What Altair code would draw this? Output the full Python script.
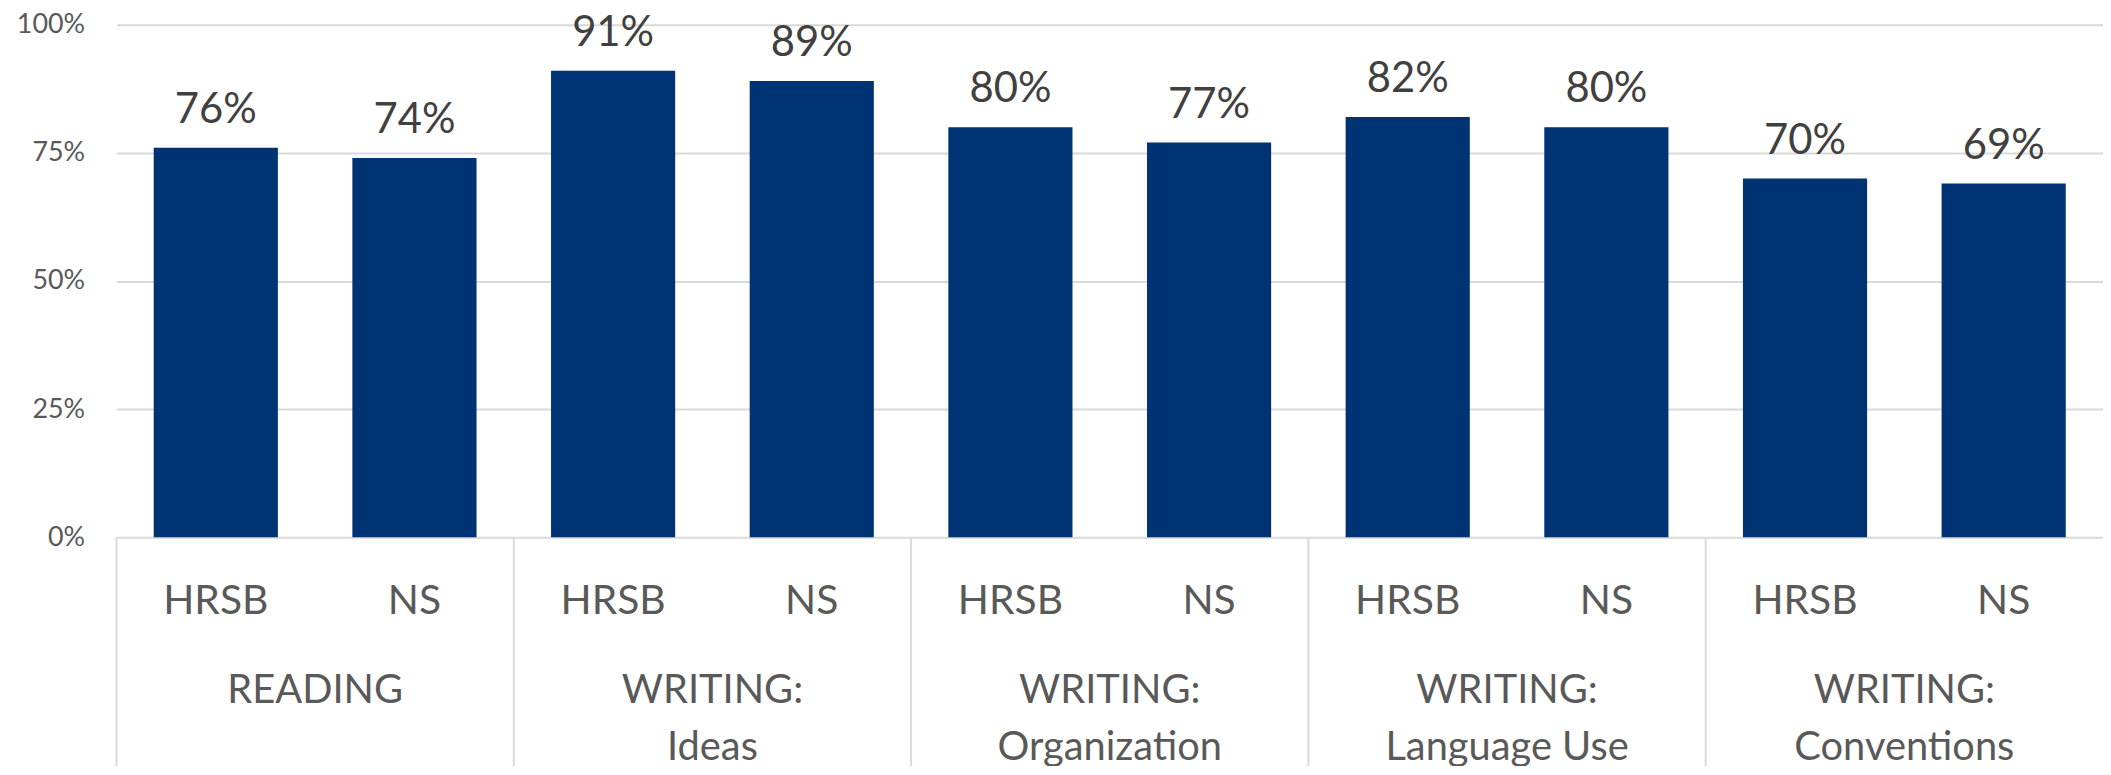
import altair as alt
import pandas as pd

groups = ["READING", "WRITING:\nIdeas", "WRITING:\nOrganization",
          "WRITING:\nLanguage Use", "WRITING:\nConventions"]
series = ["HRSB", "NS"]
hrsb = [0.76, 0.91, 0.80, 0.82, 0.70]
ns = [0.74, 0.89, 0.77, 0.80, 0.69]
y_ticks = [0, 0.25, 0.5, 0.75, 1.0]

rows = []
for g, a, b in zip(groups, hrsb, ns):
    for s, v in zip(series, [a, b]):
        rows.append({"group": g, "series": s, "key": g + "|" + s, "value": v})
df = pd.DataFrame(rows)
keys = list(df["key"])
gdf = pd.DataFrame({"group": groups})

FONT = "Lato"
BAR = "#003373"
GRID = "#d9d9d9"

x_bar = alt.X("key:N", sort=keys, axis=None,
              scale=alt.Scale(paddingInner=0.375, paddingOuter=0.1875))
y_val = alt.Y("value:Q", scale=alt.Scale(domain=[0, 1]),
              axis=alt.Axis(values=y_ticks, format=".0%", title=None,
                            domain=False, ticks=False, labelFontSize=27,
                            labelFont=FONT, labelColor="#595959",
                            labelPadding=32, gridColor=GRID, gridWidth=2))

base = alt.Chart(df)
bars = base.mark_bar(color=BAR).encode(x=x_bar, y=y_val)
vals = base.mark_text(dy=-25, baseline="alphabetic", fontSize=42, font=FONT,
                      color="#404040").encode(
    x=x_bar, y=alt.Y("value:Q"), text=alt.Text("value:Q", format=".0%"))
subs = base.mark_text(baseline="alphabetic", fontSize=41, font=FONT,
                      color="#595959").encode(
    x=x_bar, y=alt.value(592), text="series:N")

gscale = alt.Scale(paddingInner=0, paddingOuter=0)
gbase = alt.Chart(gdf)
gtext = gbase.mark_text(baseline="alphabetic", fontSize=40, font=FONT,
                        lineBreak="\n", lineHeight=57, color="#595959").encode(
    x=alt.X("group:N", sort=groups, axis=None, scale=gscale),
    y=alt.value(682), text="group:N")
seps = gbase.mark_rule(color=GRID, strokeWidth=2).encode(
    x=alt.X("group:N", sort=groups, axis=None, scale=gscale, bandPosition=0),
    y=alt.value(515), y2=alt.value(770))

chart = alt.layer(
    alt.layer(bars, vals, subs),
    alt.layer(seps, gtext),
).resolve_scale(x="independent").properties(
    width=1996, height=515,
    autosize=alt.AutoSizeParams(type="none"),
    padding={"left": 109, "top": 15, "right": 0, "bottom": 228},
    background="white",
).configure_view(stroke=None)

chart.save("out.html", embed_options={"renderer": "svg", "actions": False})
